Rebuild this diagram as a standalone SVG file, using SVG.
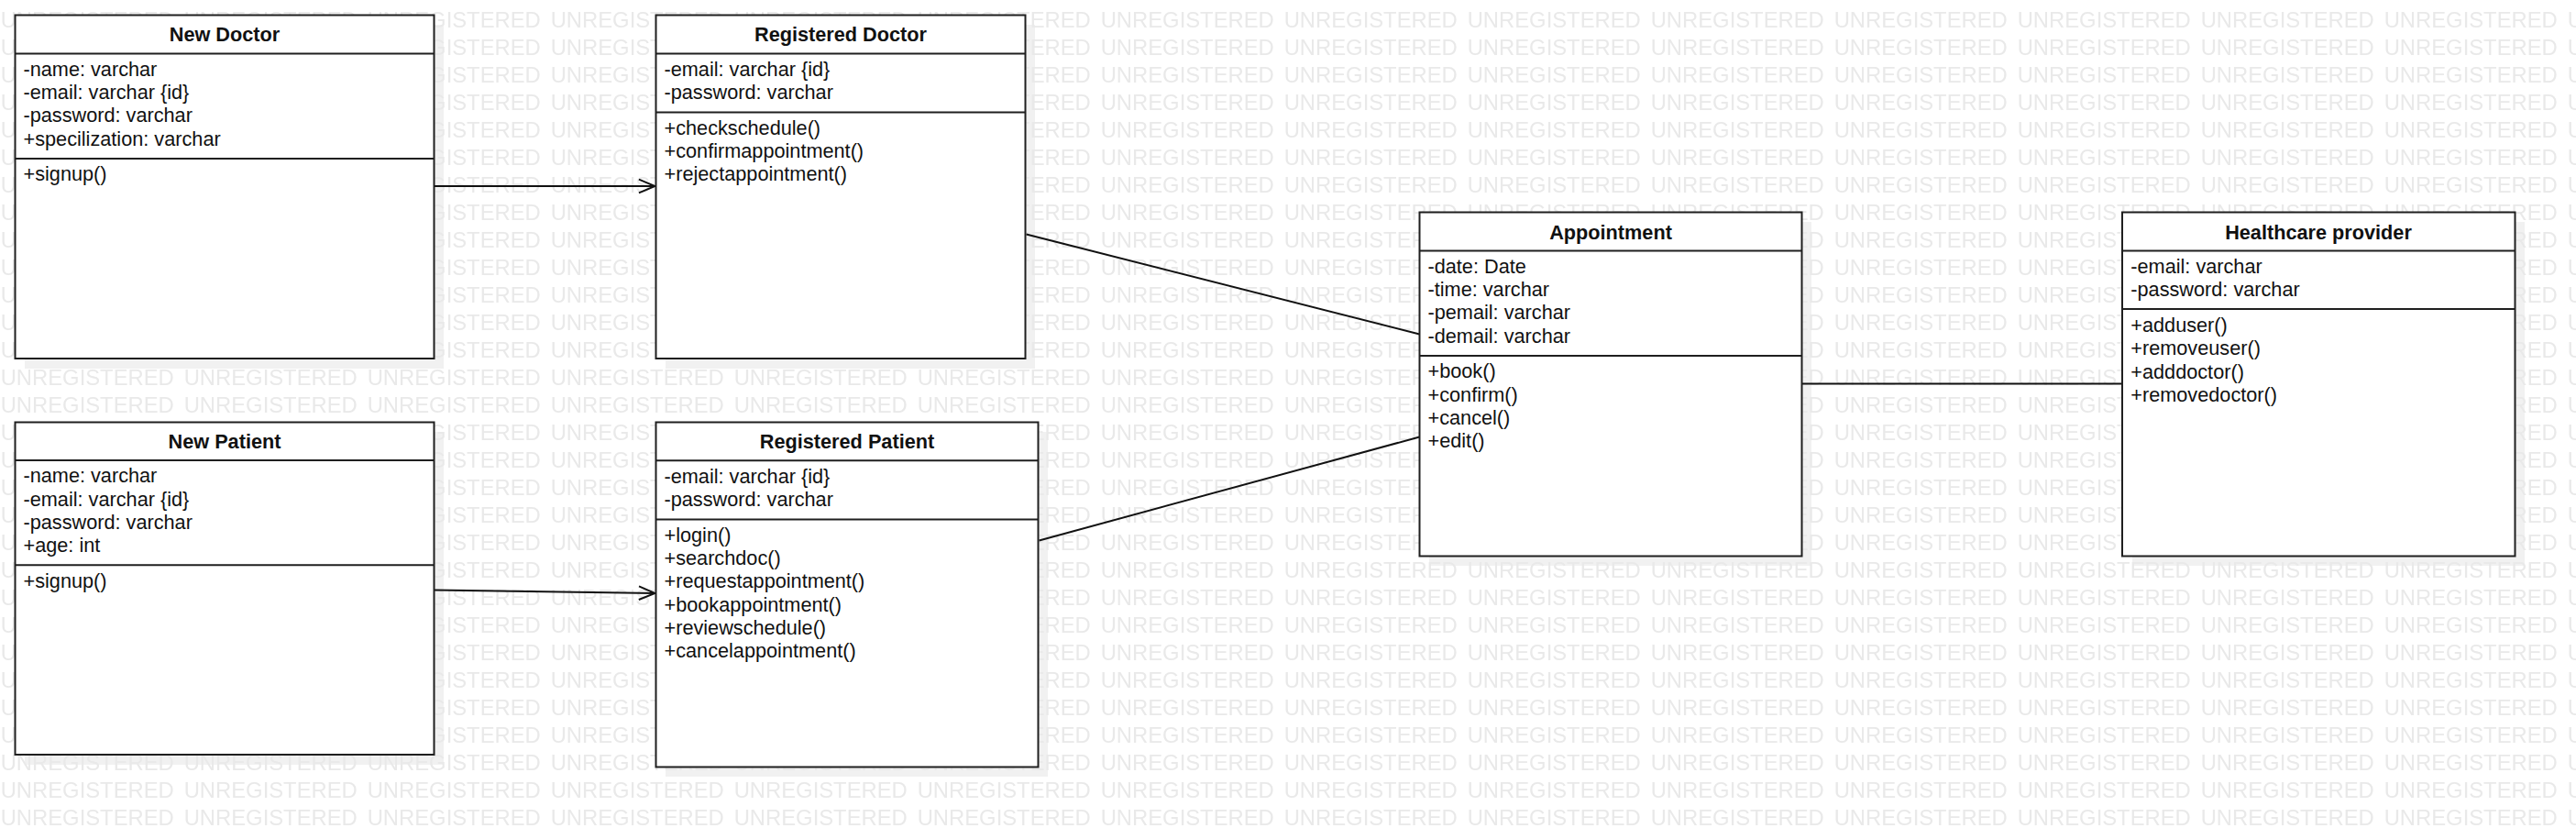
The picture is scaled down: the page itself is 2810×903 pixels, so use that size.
<svg xmlns="http://www.w3.org/2000/svg" width="2810" height="903" viewBox="0 0 2810 903">
<style>
.wm{font-family:"Liberation Sans",Arial,sans-serif;font-size:23.8px;fill:#e9e9e9}
.shadow{fill:#f1f1f1}
.box{fill:#ffffff;stroke:#1f1f1f;stroke-width:2}
.sep{stroke:#1f1f1f;stroke-width:2}
.title{font-family:"Liberation Sans",Arial,sans-serif;font-size:21.7px;font-weight:bold;fill:#111;text-anchor:middle}
.t{font-family:"Liberation Sans",Arial,sans-serif;font-size:21.7px;fill:#111}
.edge{stroke:#111;stroke-width:2;fill:none}
</style>
<defs>
<pattern id="wmp" patternUnits="userSpaceOnUse" x="0" y="0" width="200" height="30">
<text class="wm" x="0.7" y="30">UNREGISTERED</text>
</pattern>
<marker id="open" markerUnits="userSpaceOnUse" viewBox="-20 -10 22 20" refX="0" refY="0" markerWidth="22" markerHeight="20" orient="auto">
<path d="M-17.6,-7.3 L0,0 L-17.6,7.3" fill="none" stroke="#111" stroke-width="2"/>
</marker>
</defs>
<rect x="0" y="0" width="2810" height="903" fill="#ffffff"/>
<g id="shadows">
<rect class="shadow" x="27" y="27" width="457" height="375"/>
<rect class="shadow" x="726" y="27" width="403" height="375"/>
<rect class="shadow" x="27" y="471" width="457" height="363"/>
<rect class="shadow" x="726" y="471" width="417" height="376"/>
<rect class="shadow" x="1559" y="242" width="417" height="375"/>
<rect class="shadow" x="2326" y="242" width="428" height="375"/>
</g>
<rect id="watermark" x="0" y="0" width="2810" height="903" fill="url(#wmp)"/>
<g id="connectors">
<line class="edge" x1="474" y1="203" x2="714.5" y2="203" marker-end="url(#open)"/>
<line class="edge" x1="474" y1="643.5" x2="714.5" y2="647" marker-end="url(#open)"/>
<line class="edge" x1="1119.5" y1="255.5" x2="1548.5" y2="364.5"/>
<line class="edge" x1="1133.5" y1="589.5" x2="1548.5" y2="476.5"/>
<line class="edge" x1="1966" y1="418.5" x2="2315" y2="418.5"/>
</g>
<g id="new-doctor">
<rect class="box" x="16.5" y="16.5" width="457" height="374.5"/>
<line class="sep" x1="16.5" y1="58.5" x2="473.5" y2="58.5"/>
<line class="sep" x1="16.5" y1="173" x2="473.5" y2="173"/>
<text class="title" x="245" y="45">New Doctor</text>
<text class="t" x="25.5" y="82.8">-name: varchar</text>
<text class="t" x="25.5" y="108.1">-email: varchar {id}</text>
<text class="t" x="25.5" y="133.4">-password: varchar</text>
<text class="t" x="25.5" y="158.7">+specilization: varchar</text>
<text class="t" x="25.5" y="197.3">+signup()</text>
</g>
<g id="registered-doctor">
<rect class="box" x="715.5" y="16.5" width="403" height="374.5"/>
<line class="sep" x1="715.5" y1="58.5" x2="1118.5" y2="58.5"/>
<line class="sep" x1="715.5" y1="122.5" x2="1118.5" y2="122.5"/>
<text class="title" x="917" y="45">Registered Doctor</text>
<text class="t" x="724.5" y="82.8">-email: varchar {id}</text>
<text class="t" x="724.5" y="108.1">-password: varchar</text>
<text class="t" x="724.5" y="146.5">+checkschedule()</text>
<text class="t" x="724.5" y="171.8">+confirmappointment()</text>
<text class="t" x="724.5" y="197.1">+rejectappointment()</text>
</g>
<g id="new-patient">
<rect class="box" x="16.5" y="460.5" width="457" height="362.5"/>
<line class="sep" x1="16.5" y1="502" x2="473.5" y2="502"/>
<line class="sep" x1="16.5" y1="616.3" x2="473.5" y2="616.3"/>
<text class="title" x="245" y="488.5">New Patient</text>
<text class="t" x="25.5" y="526.3">-name: varchar</text>
<text class="t" x="25.5" y="551.6">-email: varchar {id}</text>
<text class="t" x="25.5" y="576.9">-password: varchar</text>
<text class="t" x="25.5" y="602.2">+age: int</text>
<text class="t" x="25.5" y="640.5">+signup()</text>
</g>
<g id="registered-patient">
<rect class="box" x="715.5" y="460.5" width="417" height="376"/>
<line class="sep" x1="715.5" y1="502.3" x2="1132.5" y2="502.3"/>
<line class="sep" x1="715.5" y1="566.5" x2="1132.5" y2="566.5"/>
<text class="title" x="924" y="488.5">Registered Patient</text>
<text class="t" x="724.5" y="526.8">-email: varchar {id}</text>
<text class="t" x="724.5" y="552.1">-password: varchar</text>
<text class="t" x="724.5" y="590.7">+login()</text>
<text class="t" x="724.5" y="616">+searchdoc()</text>
<text class="t" x="724.5" y="641.3">+requestappointment()</text>
<text class="t" x="724.5" y="666.6">+bookappointment()</text>
<text class="t" x="724.5" y="691.9">+reviewschedule()</text>
<text class="t" x="724.5" y="717.2">+cancelappointment()</text>
</g>
<g id="appointment">
<rect class="box" x="1548.5" y="231.5" width="417" height="375"/>
<line class="sep" x1="1548.5" y1="273.5" x2="1965.5" y2="273.5"/>
<line class="sep" x1="1548.5" y1="388" x2="1965.5" y2="388"/>
<text class="title" x="1757" y="260.5">Appointment</text>
<text class="t" x="1557.5" y="297.8">-date: Date</text>
<text class="t" x="1557.5" y="323.1">-time: varchar</text>
<text class="t" x="1557.5" y="348.4">-pemail: varchar</text>
<text class="t" x="1557.5" y="373.7">-demail: varchar</text>
<text class="t" x="1557.5" y="412.3">+book()</text>
<text class="t" x="1557.5" y="437.6">+confirm()</text>
<text class="t" x="1557.5" y="462.9">+cancel()</text>
<text class="t" x="1557.5" y="488.2">+edit()</text>
</g>
<g id="healthcare-provider">
<rect class="box" x="2315" y="231.5" width="428.5" height="375"/>
<line class="sep" x1="2315" y1="273.5" x2="2743.5" y2="273.5"/>
<line class="sep" x1="2315" y1="337" x2="2743.5" y2="337"/>
<text class="title" x="2529" y="260.5">Healthcare provider</text>
<text class="t" x="2324.3" y="297.8">-email: varchar</text>
<text class="t" x="2324.3" y="323.1">-password: varchar</text>
<text class="t" x="2324.3" y="362">+adduser()</text>
<text class="t" x="2324.3" y="387.3">+removeuser()</text>
<text class="t" x="2324.3" y="412.6">+adddoctor()</text>
<text class="t" x="2324.3" y="437.9">+removedoctor()</text>
</g>
</svg>
